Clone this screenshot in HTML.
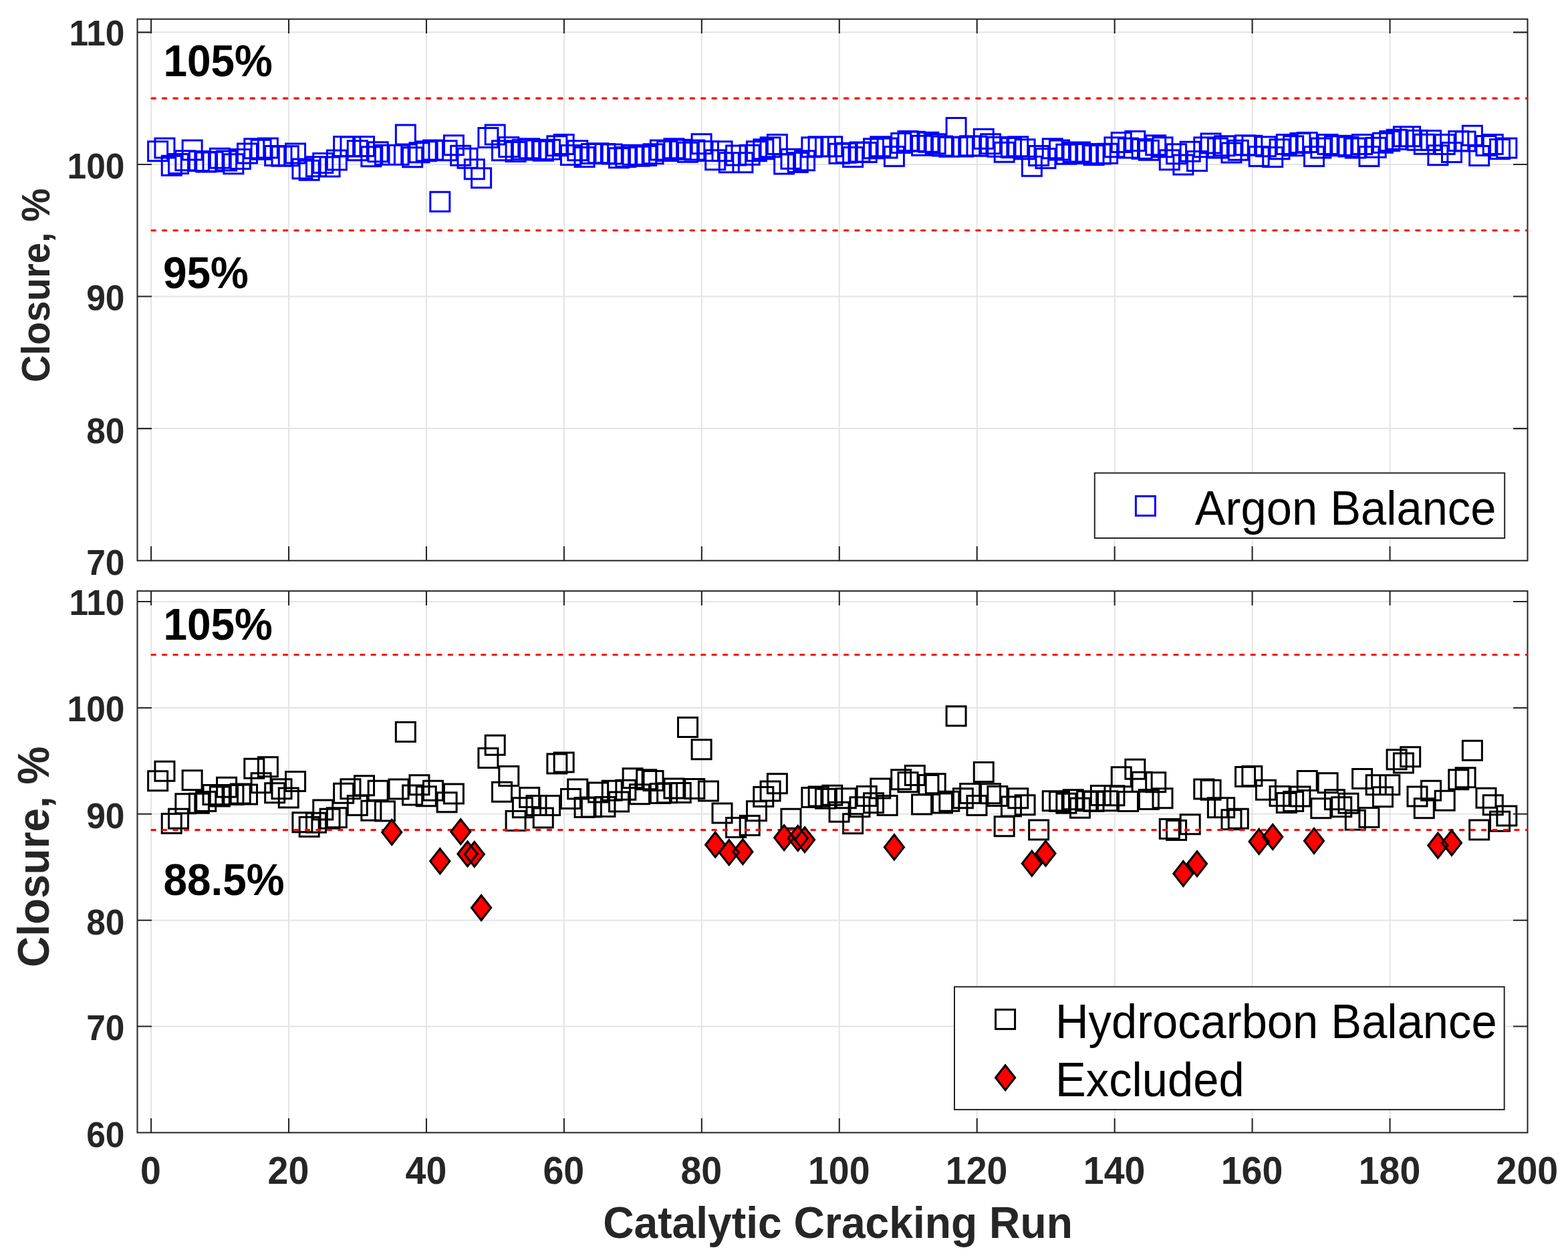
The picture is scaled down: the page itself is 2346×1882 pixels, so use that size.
<!DOCTYPE html>
<html lang="en"><head><meta charset="utf-8"><title>Closure vs Catalytic Cracking Run</title>
<style>
html,body{margin:0;padding:0;background:#fff;}
body{width:2346px;height:1882px;overflow:hidden;}
svg{display:block;}
text{font-family:"Liberation Sans", Arial, Helvetica, sans-serif;}
.tk{font-weight:bold;font-size:51.5px;fill:#262626;}
.xtk{font-weight:bold;font-size:55.5px;fill:#262626;}
.yl{font-weight:bold;font-size:56.2px;fill:#262626;}
.xl{font-weight:bold;font-size:64.2px;fill:#262626;}
.yl2{font-weight:bold;font-size:63.9px;fill:#262626;}
.an{font-weight:bold;font-size:64.4px;fill:#000;}
.lg{font-size:68.7px;fill:#000;}
.grid{stroke:#e4e4e4;stroke-width:2;fill:none;}
.ax{stroke:#262626;stroke-width:2.05;fill:none;}
.lim{stroke:#ff0000;stroke-width:3.1;stroke-dasharray:5.4 11.05;stroke-linecap:round;fill:none;}
.sqb{stroke:#0000ff;stroke-width:3;fill:none;}
.sqk{stroke:#000;stroke-width:3;fill:none;}
.dia{stroke:#000;stroke-width:3;fill:#ff0000;stroke-linejoin:miter;}
.lbox{stroke:#262626;stroke-width:2;fill:#fff;}
</style></head><body>
<svg xmlns="http://www.w3.org/2000/svg" width="2346" height="1882" viewBox="0 0 2346 1882">
<rect x="0" y="0" width="2346" height="1882" fill="#fff"/>
<g>
<path class="grid" d="M226.09 28.6V838.7M432.03 28.6V838.7M637.98 28.6V838.7M843.92 28.6V838.7M1049.86 28.6V838.7M1255.8 28.6V838.7M1461.74 28.6V838.7M1667.68 28.6V838.7M1873.62 28.6V838.7M2079.56 28.6V838.7M205.5 641.11H2285.5M205.5 443.53H2285.5M205.5 245.94H2285.5M205.5 48.36H2285.5"/>
</g>
<path class="sqb" d="M221.64 211.8h29v29h-29zM231.94 206.9h29v29h-29zM242.24 233.28h29v29h-29zM252.53 230.5h29v29h-29zM262.83 225.83h29v29h-29zM273.13 209.91h29v29h-29zM283.42 226.6h29v29h-29zM293.72 228.05h29v29h-29zM304.02 227.16h29v29h-29zM314.31 222.16h29v29h-29zM324.61 226.05h29v29h-29zM334.91 230.83h29v29h-29zM345.21 223.6h29v29h-29zM355.5 214.91h29v29h-29zM365.8 207.67h29v29h-29zM376.1 209.35h29v29h-29zM386.39 206.9h29v29h-29zM396.69 218.58h29v29h-29zM406.99 219.13h29v29h-29zM417.28 218.82h29v29h-29zM427.58 214.91h29v29h-29zM437.88 238.06h29v29h-29zM448.18 240.3h29v29h-29zM458.47 234.72h29v29h-29zM468.77 229.39h29v29h-29zM479.07 235.06h29v29h-29zM489.36 224.92h29v29h-29zM499.66 204.55h29v29h-29zM509.96 204.89h29v29h-29zM520.25 210.68h29v29h-29zM530.55 204.55h29v29h-29zM540.85 219.71h29v29h-29zM551.15 212.69h29v29h-29zM561.44 217.14h29v29h-29zM571.74 217.14h29v29h-29zM582.04 217.14h29v29h-29zM592.33 187.09h29v29h-29zM602.63 220.81h29v29h-29zM612.93 213.8h29v29h-29zM623.23 211.8h29v29h-29zM633.52 209.91h29v29h-29zM643.82 287.26h29v29h-29zM654.12 210.68h29v29h-29zM664.41 202.68h29v29h-29zM674.71 218.25h29v29h-29zM685.01 222.16h29v29h-29zM695.3 238.85h29v29h-29zM705.6 251.87h29v29h-29zM715.9 191.53h29v29h-29zM726.2 187.09h29v29h-29zM736.49 210.68h29v29h-29zM746.79 205.46h29v29h-29zM757.09 212.46h29v29h-29zM767.38 209.35h29v29h-29zM777.68 207.67h29v29h-29zM787.98 209.91h29v29h-29zM798.27 211.35h29v29h-29zM808.57 209.35h29v29h-29zM818.87 203.78h29v29h-29zM829.17 201.55h29v29h-29zM839.46 217.47h29v29h-29zM849.76 210.68h29v29h-29zM860.06 220.6h29v29h-29zM870.35 215.48h29v29h-29zM880.65 214.69h29v29h-29zM890.95 215.48h29v29h-29zM901.25 216.03h29v29h-29zM911.54 221.7h29v29h-29zM921.84 220.6h29v29h-29zM932.14 217.14h29v29h-29zM942.43 219.37h29v29h-29zM952.73 218.58h29v29h-29zM963.03 215.8h29v29h-29zM973.32 209.91h29v29h-29zM983.62 211.57h29v29h-29zM993.92 207.67h29v29h-29zM1004.22 209.35h29v29h-29zM1014.51 213.25h29v29h-29zM1024.81 209.91h29v29h-29zM1035.11 200.66h29v29h-29zM1045.4 211.57h29v29h-29zM1055.7 224.71h29v29h-29zM1066 211.8h29v29h-29zM1076.29 228.84h29v29h-29zM1086.59 218.03h29v29h-29zM1096.89 228.84h29v29h-29zM1107.19 217.26h29v29h-29zM1117.48 211.8h29v29h-29zM1127.78 208.8h29v29h-29zM1138.08 205.78h29v29h-29zM1148.37 201.55h29v29h-29zM1158.67 231.05h29v29h-29zM1168.97 223.26h29v29h-29zM1179.26 228.6h29v29h-29zM1189.56 225.83h29v29h-29zM1199.86 205.78h29v29h-29zM1210.16 204.67h29v29h-29zM1220.45 204.89h29v29h-29zM1230.75 204.67h29v29h-29zM1241.05 215.24h29v29h-29zM1251.34 214.35h29v29h-29zM1261.64 220.6h29v29h-29zM1271.94 212.91h29v29h-29zM1282.24 213.58h29v29h-29zM1292.53 207.67h29v29h-29zM1302.83 204.67h29v29h-29zM1313.13 207.12h29v29h-29zM1323.42 219.47h29v29h-29zM1333.72 199.55h29v29h-29zM1344.02 196.55h29v29h-29zM1354.31 197.32h29v29h-29zM1364.61 203.23h29v29h-29zM1374.91 198.21h29v29h-29zM1385.21 200.66h29v29h-29zM1395.5 204.12h29v29h-29zM1405.8 205.22h29v29h-29zM1416.1 176.52h29v29h-29zM1426.39 204.89h29v29h-29zM1436.69 203.78h29v29h-29zM1446.99 204.34h29v29h-29zM1457.28 193.21h29v29h-29zM1467.58 200.66h29v29h-29zM1477.88 205.22h29v29h-29zM1488.18 213.25h29v29h-29zM1498.47 206.57h29v29h-29zM1508.77 204.67h29v29h-29zM1519.07 208.8h29v29h-29zM1529.36 234.17h29v29h-29zM1539.66 218.58h29v29h-29zM1549.96 222.47h29v29h-29zM1560.25 207.67h29v29h-29zM1570.55 209.91h29v29h-29zM1580.85 216.37h29v29h-29zM1591.15 213.25h29v29h-29zM1601.44 212.91h29v29h-29zM1611.74 215.48h29v29h-29zM1622.04 217.47h29v29h-29zM1632.33 216.03h29v29h-29zM1642.63 215.24h29v29h-29zM1652.93 205.78h29v29h-29zM1663.23 198.45h29v29h-29zM1673.52 207.12h29v29h-29zM1683.82 196.55h29v29h-29zM1694.12 208.23h29v29h-29zM1704.41 210.24h29v29h-29zM1714.71 202.68h29v29h-29zM1725.01 205.78h29v29h-29zM1735.3 224.71h29v29h-29zM1745.6 215.8h29v29h-29zM1755.9 231.94h29v29h-29zM1766.2 212.14h29v29h-29zM1776.49 226.6h29v29h-29zM1786.79 205.78h29v29h-29zM1797.09 199.89h29v29h-29zM1807.38 207.12h29v29h-29zM1817.68 203.78h29v29h-29zM1827.98 213.92h29v29h-29zM1838.27 210.24h29v29h-29zM1848.57 202.68h29v29h-29zM1858.87 203.23h29v29h-29zM1869.17 219.47h29v29h-29zM1879.46 204.67h29v29h-29zM1889.76 220.6h29v29h-29zM1900.06 208.8h29v29h-29zM1910.35 201.55h29v29h-29zM1920.65 203.78h29v29h-29zM1930.95 199.55h29v29h-29zM1941.25 198.45h29v29h-29zM1951.54 219.47h29v29h-29zM1961.84 207.12h29v29h-29zM1972.14 201.55h29v29h-29zM1982.43 203.78h29v29h-29zM1992.73 203.23h29v29h-29zM2003.03 204.89h29v29h-29zM2013.32 207.12h29v29h-29zM2023.62 201.55h29v29h-29zM2033.92 219.47h29v29h-29zM2044.22 206.35h29v29h-29zM2054.51 199.34h29v29h-29zM2064.81 196.55h29v29h-29zM2075.11 194.32h29v29h-29zM2085.4 189.87h29v29h-29zM2095.7 189.87h29v29h-29zM2106 195.21h29v29h-29zM2116.29 201.33h29v29h-29zM2126.59 195.42h29v29h-29zM2136.89 217.69h29v29h-29zM2147.19 201.55h29v29h-29zM2157.48 213.58h29v29h-29zM2167.78 196.55h29v29h-29zM2178.08 196.89h29v29h-29zM2188.37 188.19h29v29h-29zM2198.67 218.58h29v29h-29zM2208.97 203.56h29v29h-29zM2219.26 201.55h29v29h-29zM2229.56 208.56h29v29h-29zM2239.86 206.9h29v29h-29z"/>
<path class="ax" d="M226.09 838.7v-21.5M226.09 28.6v21.5M432.03 838.7v-21.5M432.03 28.6v21.5M637.98 838.7v-21.5M637.98 28.6v21.5M843.92 838.7v-21.5M843.92 28.6v21.5M1049.86 838.7v-21.5M1049.86 28.6v21.5M1255.8 838.7v-21.5M1255.8 28.6v21.5M1461.74 838.7v-21.5M1461.74 28.6v21.5M1667.68 838.7v-21.5M1667.68 28.6v21.5M1873.62 838.7v-21.5M1873.62 28.6v21.5M2079.56 838.7v-21.5M2079.56 28.6v21.5M205.5 641.11h21.5M2285.5 641.11h-21.5M205.5 443.53h21.5M2285.5 443.53h-21.5M205.5 245.94h21.5M2285.5 245.94h-21.5M205.5 48.36h21.5M2285.5 48.36h-21.5"/>
<rect class="ax" x="205.5" y="28.6" width="2080" height="810.1"/>
<path class="lim" d="M226.99 147.15H2284.9"/>
<path class="lim" d="M226.99 344.74H2284.9"/>
<g>
<path class="grid" d="M226.09 884.2V1694.45M432.03 884.2V1694.45M637.98 884.2V1694.45M843.92 884.2V1694.45M1049.86 884.2V1694.45M1255.8 884.2V1694.45M1461.74 884.2V1694.45M1667.68 884.2V1694.45M1873.62 884.2V1694.45M2079.56 884.2V1694.45M205.5 1535.58H2285.5M205.5 1376.7H2285.5M205.5 1217.83H2285.5M205.5 1058.96H2285.5M205.5 900.09H2285.5"/>
</g>
<path class="sqk" d="M221.64 1153.83h29v29h-29zM231.94 1139.21h29v29h-29zM242.24 1217.38h29v29h-29zM252.53 1210.32h29v29h-29zM262.83 1187.73h29v29h-29zM273.13 1152.76h29v29h-29zM283.42 1187.33h29v29h-29zM293.72 1184.41h29v29h-29zM304.02 1174.43h29v29h-29zM314.31 1177.09h29v29h-29zM324.61 1163.14h29v29h-29zM334.91 1174.43h29v29h-29zM345.21 1173.1h29v29h-29zM355.5 1174.04h29v29h-29zM365.8 1135.22h29v29h-29zM376.1 1156.75h29v29h-29zM386.39 1132.82h29v29h-29zM396.69 1171.78h29v29h-29zM406.99 1165.79h29v29h-29zM417.28 1179.09h29v29h-29zM427.58 1154.49h29v29h-29zM437.88 1215.64h29v29h-29zM448.18 1222.56h29v29h-29zM458.47 1216.31h29v29h-29zM468.77 1197.04h29v29h-29zM479.07 1210.32h29v29h-29zM489.36 1208.73h29v29h-29zM499.66 1172.18h29v29h-29zM509.96 1165.79h29v29h-29zM520.25 1190.38h29v29h-29zM530.55 1160.74h29v29h-29zM540.85 1198.36h29v29h-29zM551.15 1168.19h29v29h-29zM561.44 1199.03h29v29h-29zM582.04 1166.06h29v29h-29zM592.33 1080.44h29v29h-29zM602.63 1175.1h29v29h-29zM612.93 1159.82h29v29h-29zM623.23 1176.69h29v29h-29zM633.52 1168.19h29v29h-29zM654.12 1185.73h29v29h-29zM664.41 1173.1h29v29h-29zM715.9 1119.53h29v29h-29zM726.2 1100.26h29v29h-29zM736.49 1170.18h29v29h-29zM746.79 1146.52h29v29h-29zM757.09 1213.39h29v29h-29zM767.38 1193.7h29v29h-29zM777.68 1178.42h29v29h-29zM787.98 1190.38h29v29h-29zM798.27 1209h29v29h-29zM808.57 1190.38h29v29h-29zM818.87 1127.9h29v29h-29zM829.17 1125.91h29v29h-29zM839.46 1180.42h29v29h-29zM849.76 1166.06h29v29h-29zM860.06 1193.45h29v29h-29zM870.35 1193.05h29v29h-29zM880.65 1171.11h29v29h-29zM890.95 1192.39h29v29h-29zM901.25 1168.19h29v29h-29zM911.54 1185.08h29v29h-29zM921.84 1167.13h29v29h-29zM932.14 1149.84h29v29h-29zM942.43 1173.77h29v29h-29zM952.73 1151.84h29v29h-29zM963.03 1153.56h29v29h-29zM973.32 1172.45h29v29h-29zM983.62 1171.78h29v29h-29zM993.92 1165.12h29v29h-29zM1004.22 1171.38h29v29h-29zM1014.51 1073.41h29v29h-29zM1024.81 1165.52h29v29h-29zM1035.11 1106.64h29v29h-29zM1045.4 1169.11h29v29h-29zM1066 1201.95h29v29h-29zM1086.59 1223.62h29v29h-29zM1107.19 1220.57h29v29h-29zM1117.48 1198.76h29v29h-29zM1127.78 1177.5h29v29h-29zM1138.08 1169.11h29v29h-29zM1148.37 1157.82h29v29h-29zM1168.97 1210.32h29v29h-29zM1199.86 1178.42h29v29h-29zM1210.16 1177.09h29v29h-29zM1220.45 1180.15h29v29h-29zM1230.75 1175.37h29v29h-29zM1241.05 1200.36h29v29h-29zM1251.34 1179.76h29v29h-29zM1261.64 1217.65h29v29h-29zM1271.94 1192.64h29v29h-29zM1282.24 1176.44h29v29h-29zM1292.53 1186.79h29v29h-29zM1302.83 1165.12h29v29h-29zM1313.13 1190.38h29v29h-29zM1333.72 1151.84h29v29h-29zM1344.02 1155.83h29v29h-29zM1354.31 1145.58h29v29h-29zM1364.61 1189.07h29v29h-29zM1374.91 1159.42h29v29h-29zM1385.21 1157.82h29v29h-29zM1395.5 1187.06h29v29h-29zM1405.8 1184.14h29v29h-29zM1416.1 1056.79h29v29h-29zM1426.39 1179.76h29v29h-29zM1436.69 1172.45h29v29h-29zM1446.99 1190.38h29v29h-29zM1457.28 1140.53h29v29h-29zM1467.58 1172.7h29v29h-29zM1477.88 1176.44h29v29h-29zM1488.18 1221.63h29v29h-29zM1498.47 1192.12h29v29h-29zM1508.77 1179.76h29v29h-29zM1519.07 1189.72h29v29h-29zM1539.66 1226.94h29v29h-29zM1560.25 1183.74h29v29h-29zM1570.55 1184.41h29v29h-29zM1580.85 1187.33h29v29h-29zM1591.15 1181.74h29v29h-29zM1601.44 1194.37h29v29h-29zM1611.74 1183.74h29v29h-29zM1622.04 1184.41h29v29h-29zM1632.33 1175.5h29v29h-29zM1642.63 1183.74h29v29h-29zM1652.93 1175.77h29v29h-29zM1663.23 1147.85h29v29h-29zM1673.52 1184.41h29v29h-29zM1683.82 1136.29h29v29h-29zM1694.12 1155.16h29v29h-29zM1704.41 1181.49h29v29h-29zM1714.71 1155.83h29v29h-29zM1725.01 1179.76h29v29h-29zM1735.3 1225.62h29v29h-29zM1745.6 1227.61h29v29h-29zM1766.2 1218.71h29v29h-29zM1786.79 1166.06h29v29h-29zM1797.09 1167.13h29v29h-29zM1807.38 1193.7h29v29h-29zM1817.68 1193.7h29v29h-29zM1827.98 1211.66h29v29h-29zM1838.27 1210.32h29v29h-29zM1848.57 1147.44h29v29h-29zM1858.87 1146.52h29v29h-29zM1879.46 1167.13h29v29h-29zM1900.06 1176.44h29v29h-29zM1910.35 1186.4h29v29h-29zM1920.65 1184.41h29v29h-29zM1930.95 1177.09h29v29h-29zM1941.25 1153.56h29v29h-29zM1961.84 1194.77h29v29h-29zM1972.14 1156.75h29v29h-29zM1982.43 1181.74h29v29h-29zM1992.73 1192.64h29v29h-29zM2003.03 1187.33h29v29h-29zM2013.32 1212.32h29v29h-29zM2023.62 1150.51h29v29h-29zM2033.92 1208.61h29v29h-29zM2044.22 1159.82h29v29h-29zM2054.51 1177.75h29v29h-29zM2064.81 1159.82h29v29h-29zM2075.11 1121.66h29v29h-29zM2085.4 1126.98h29v29h-29zM2095.7 1117.67h29v29h-29zM2106 1177.09h29v29h-29zM2116.29 1194.77h29v29h-29zM2126.59 1168.19h29v29h-29zM2147.19 1183.35h29v29h-29zM2167.78 1151.84h29v29h-29zM2178.08 1148.78h29v29h-29zM2188.37 1108.36h29v29h-29zM2198.67 1226.94h29v29h-29zM2208.97 1179.36h29v29h-29zM2219.26 1189.72h29v29h-29zM2229.56 1214.31h29v29h-29zM2239.86 1205.94h29v29h-29z"/>
<path class="ax" d="M226.09 1694.45v-21.5M226.09 884.2v21.5M432.03 1694.45v-21.5M432.03 884.2v21.5M637.98 1694.45v-21.5M637.98 884.2v21.5M843.92 1694.45v-21.5M843.92 884.2v21.5M1049.86 1694.45v-21.5M1049.86 884.2v21.5M1255.8 1694.45v-21.5M1255.8 884.2v21.5M1461.74 1694.45v-21.5M1461.74 884.2v21.5M1667.68 1694.45v-21.5M1667.68 884.2v21.5M1873.62 1694.45v-21.5M1873.62 884.2v21.5M2079.56 1694.45v-21.5M2079.56 884.2v21.5M205.5 1535.58h21.5M2285.5 1535.58h-21.5M205.5 1376.7h21.5M2285.5 1376.7h-21.5M205.5 1217.83h21.5M2285.5 1217.83h-21.5M205.5 1058.96h21.5M2285.5 1058.96h-21.5M205.5 900.09h21.5M2285.5 900.09h-21.5"/>
<rect class="ax" x="205.5" y="884.2" width="2080" height="810.25"/>
<path class="lim" d="M226.99 979.52H2284.9"/>
<path class="lim" d="M226.99 1241.66H2284.9"/>
<path class="dia" d="M586.24 1226.4l14.6 18.6l-14.6 18.6l-14.6 -18.6zM658.32 1269.77l14.6 18.6l-14.6 18.6l-14.6 -18.6zM689.21 1225.61l14.6 18.6l-14.6 18.6l-14.6 -18.6zM699.51 1258.81l14.6 18.6l-14.6 18.6l-14.6 -18.6zM709.8 1259.45l14.6 18.6l-14.6 18.6l-14.6 -18.6zM720.1 1339.52l14.6 18.6l-14.6 18.6l-14.6 -18.6zM1070.2 1245.15l14.6 18.6l-14.6 18.6l-14.6 -18.6zM1090.79 1256.74l14.6 18.6l-14.6 18.6l-14.6 -18.6zM1111.39 1255.63l14.6 18.6l-14.6 18.6l-14.6 -18.6zM1193.76 1235.46l14.6 18.6l-14.6 18.6l-14.6 -18.6zM1173.17 1234.66l14.6 18.6l-14.6 18.6l-14.6 -18.6zM1204.06 1237.68l14.6 18.6l-14.6 18.6l-14.6 -18.6zM1337.92 1248.8l14.6 18.6l-14.6 18.6l-14.6 -18.6zM1564.46 1258.17l14.6 18.6l-14.6 18.6l-14.6 -18.6zM1543.86 1273.11l14.6 18.6l-14.6 18.6l-14.6 -18.6zM1790.99 1273.74l14.6 18.6l-14.6 18.6l-14.6 -18.6zM1770.4 1288.36l14.6 18.6l-14.6 18.6l-14.6 -18.6zM1883.67 1240.38l14.6 18.6l-14.6 18.6l-14.6 -18.6zM1904.26 1233.39l14.6 18.6l-14.6 18.6l-14.6 -18.6zM1966.04 1239.43l14.6 18.6l-14.6 18.6l-14.6 -18.6zM2151.39 1246.26l14.6 18.6l-14.6 18.6l-14.6 -18.6zM2171.98 1242.29l14.6 18.6l-14.6 18.6l-14.6 -18.6z"/>
<text class="tk" text-anchor="end" transform="translate(186.5 860) scale(1 1.04)">70</text>
<text class="tk" text-anchor="end" transform="translate(186.5 662.6) scale(1 1.04)">80</text>
<text class="tk" text-anchor="end" transform="translate(186.5 464.1) scale(1 1.04)">90</text>
<text class="tk" text-anchor="end" transform="translate(186.5 266.9) scale(1 1.04)">100</text>
<text class="tk" text-anchor="end" transform="translate(186.5 68.3) scale(1 1.04)">110</text>
<text class="tk" text-anchor="end" transform="translate(186.5 1715.6) scale(1 1.04)">60</text>
<text class="tk" text-anchor="end" transform="translate(186.5 1556) scale(1 1.04)">70</text>
<text class="tk" text-anchor="end" transform="translate(186.5 1397.8) scale(1 1.04)">80</text>
<text class="tk" text-anchor="end" transform="translate(186.5 1238.5) scale(1 1.04)">90</text>
<text class="tk" text-anchor="end" transform="translate(186.5 1079.1) scale(1 1.04)">100</text>
<text class="tk" text-anchor="end" transform="translate(186.5 920) scale(1 1.04)">110</text>
<text class="xtk" text-anchor="middle" transform="translate(225.49 1770.8) scale(1 1.04)">0</text>
<text class="xtk" text-anchor="middle" transform="translate(431.43 1770.8) scale(1 1.04)">20</text>
<text class="xtk" text-anchor="middle" transform="translate(637.38 1770.8) scale(1 1.04)">40</text>
<text class="xtk" text-anchor="middle" transform="translate(843.32 1770.8) scale(1 1.04)">60</text>
<text class="xtk" text-anchor="middle" transform="translate(1049.26 1770.8) scale(1 1.04)">80</text>
<text class="xtk" text-anchor="middle" transform="translate(1255.2 1770.8) scale(1 1.04)">100</text>
<text class="xtk" text-anchor="middle" transform="translate(1461.14 1770.8) scale(1 1.04)">120</text>
<text class="xtk" text-anchor="middle" transform="translate(1667.08 1770.8) scale(1 1.04)">140</text>
<text class="xtk" text-anchor="middle" transform="translate(1873.02 1770.8) scale(1 1.04)">160</text>
<text class="xtk" text-anchor="middle" transform="translate(2078.96 1770.8) scale(1 1.04)">180</text>
<text class="xtk" text-anchor="middle" transform="translate(2284.9 1770.8) scale(1 1.04)">200</text>
<text class="yl" text-anchor="middle" transform="translate(74.1 426.9) rotate(-90) scale(1 1.04)">Closure, %</text>
<text class="yl2" text-anchor="middle" transform="translate(73 1281.8) rotate(-90) scale(1 1.04)">Closure, %</text>
<text class="xl" text-anchor="middle" transform="translate(1253.5 1852) scale(1 1.04)">Catalytic Cracking Run</text>
<text class="an" transform="translate(244.5 113.5) scale(0.992 1.04)">105%</text>
<text class="an" transform="translate(244 430.8) scale(0.992 1.04)">95%</text>
<text class="an" transform="translate(244.5 956.7) scale(0.992 1.04)">105%</text>
<text class="an" transform="translate(244.5 1338.9) scale(0.992 1.04)">88.5%</text>
<rect class="lbox" x="1637.8" y="707.6" width="613.4" height="97.4"/>
<rect class="sqb" x="1699.4" y="742.35" width="29" height="29"/>
<text class="lg" transform="translate(1787.8 784.6) scale(1 1.04)">Argon Balance</text>
<rect class="lbox" x="1428" y="1476.3" width="822.7" height="183.7"/>
<rect class="sqk" x="1489.6" y="1510.4" width="29" height="29"/>
<path class="dia" d="M1504.1 1593.7l14.6 18.6l-14.6 18.6l-14.6 -18.6z"/>
<text class="lg" transform="translate(1579 1552.6) scale(1 1.04)">Hydrocarbon Balance</text>
<text class="lg" transform="translate(1579 1639.9) scale(1 1.04)">Excluded</text>
</svg>
</body></html>
